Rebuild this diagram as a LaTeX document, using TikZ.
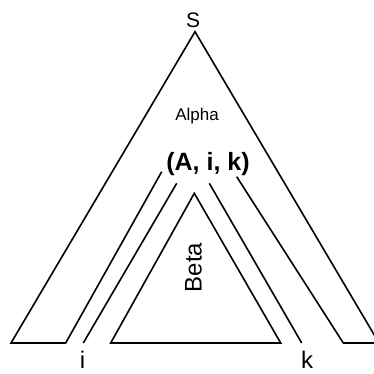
\documentclass[tikz,border=0pt]{standalone}
\usepackage{fontspec}
\setmainfont{Liberation Sans}
\usetikzlibrary{positioning}

\begin{document}
\begin{tikzpicture}[x=1pt, y=1pt,
    edge/.style={line width=1.6pt, line join=miter, line cap=butt},
    lbl/.style={inner sep=0pt, anchor=base}]
    \useasboundingbox (0,0) rectangle (374,373);
    \clip (0,0) rectangle (374,373);

    % corner points of the outer tree
    \coordinate (top)     at (195,341.3);
    \coordinate (outerL)  at (11,30);
    \coordinate (baseL)   at (65.7,30);
    \coordinate (innerL)  at (161.7,201.3);
    \coordinate (innerR)  at (236.7,196.3);
    \coordinate (baseR)   at (343.3,30);
    \coordinate (outerR)  at (379,30);

    % the two strands down to i and k
    \coordinate (iTop) at (176.7,189.7);
    \coordinate (iBot) at (83.3,30);
    \coordinate (kTop) at (209.3,189.7);
    \coordinate (kBot) at (301.7,30);

    % inner tree
    \coordinate (betaTop) at (194.3,179.7);
    \coordinate (betaL)   at (110.7,30);
    \coordinate (betaR)   at (280.7,30);

    \draw[edge] (innerL) -- (baseL) -- (outerL) -- (top) -- (outerR) -- (baseR) -- (innerR);
    \draw[edge] (iTop) -- (iBot);
    \draw[edge] (kTop) -- (kBot);
    \draw[edge] (betaTop) -- (betaR) -- (betaL) -- cycle;

    \node[inner sep=0pt, font=\fontsize{21}{21}\selectfont] (root) at (193,353) {S};
    \node[lbl, font=\fontsize{17}{17}\selectfont] (alpha) at (197,253) {Alpha};
    \node[lbl, font=\bfseries\fontsize{25}{25}\selectfont] (item) at (208,203) {(A, i, k)};
    \node[lbl, rotate=90, font=\fontsize{24}{24}\selectfont] (beta) at (201.7,105.5) {Beta};
    \node[lbl, font=\fontsize{24}{24}\selectfont] (posI) at (82.5,5) {i};
    \node[lbl, font=\fontsize{24}{24}\selectfont] (posK) at (307,5) {k};
\end{tikzpicture}
\end{document}
